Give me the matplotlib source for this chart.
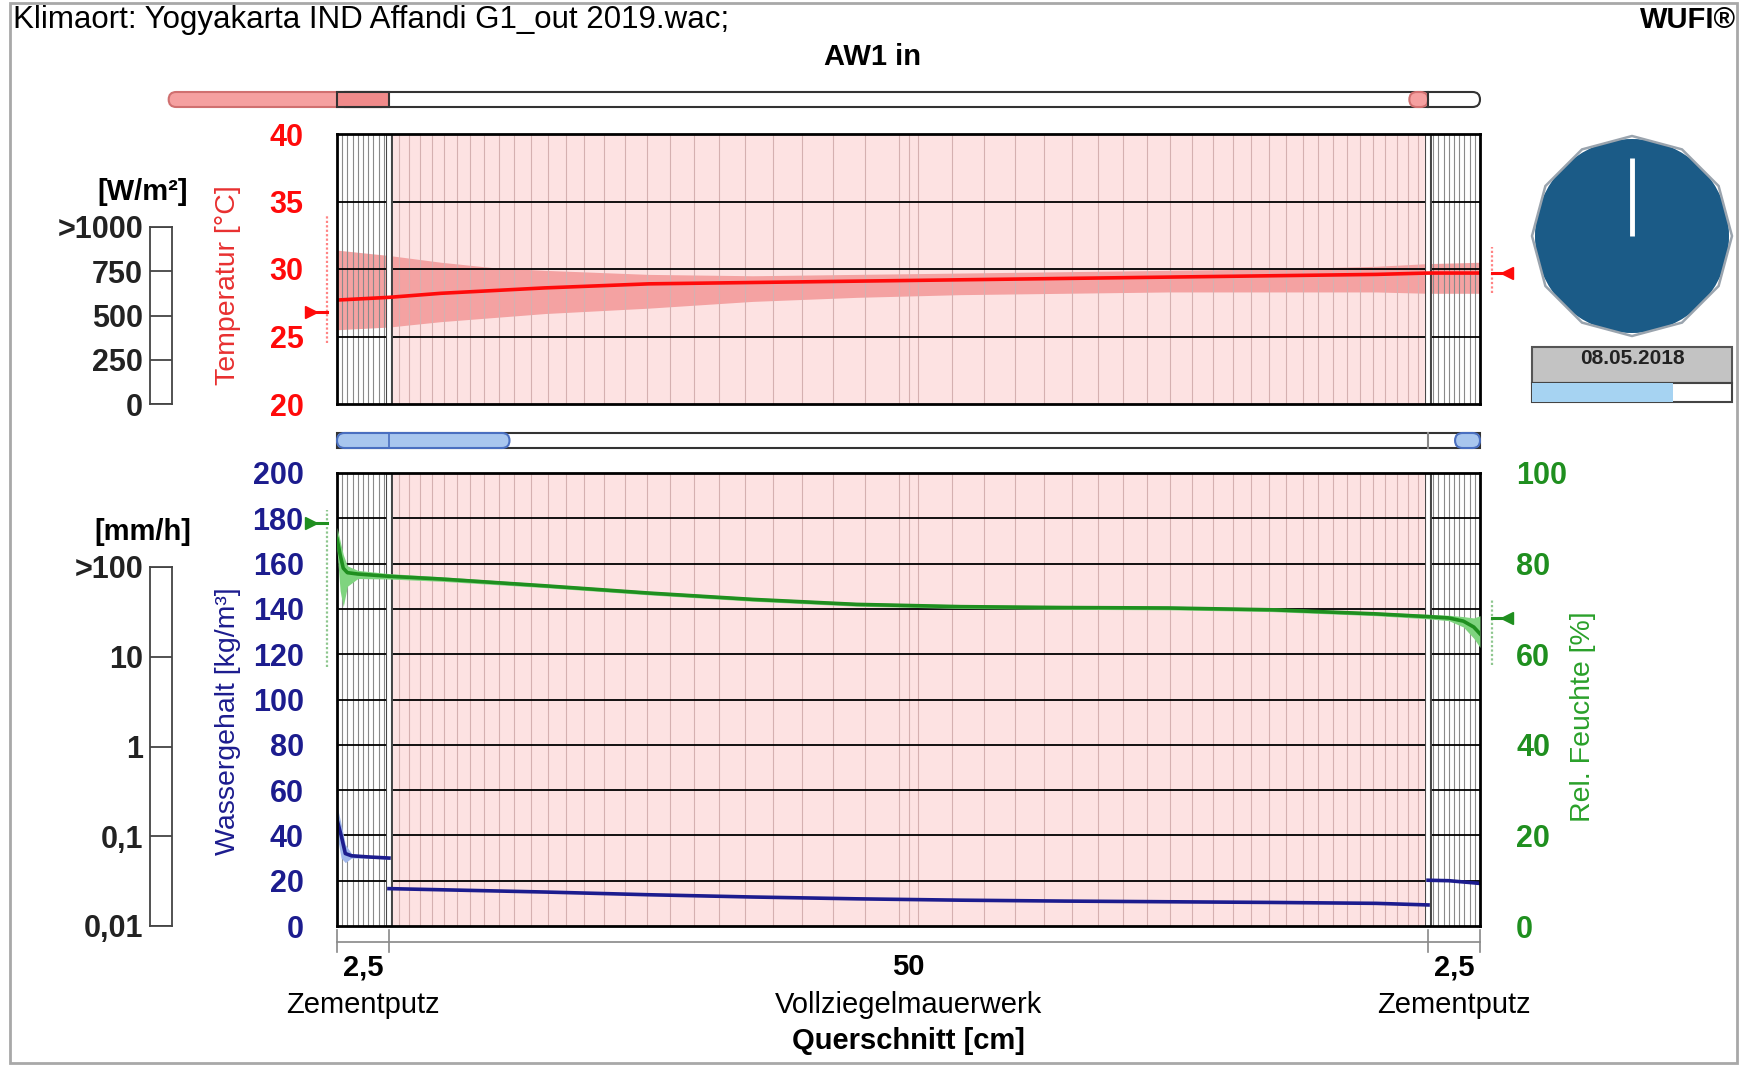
import numpy as np
import matplotlib.pyplot as plt
from matplotlib.patches import Rectangle, Circle, RegularPolygon, FancyBboxPatch
from matplotlib.transforms import blended_transform_factory

plt.rcParams['font.family'] = ['Liberation Sans', 'DejaVu Sans']

# ---- data ----
layer_names = ["Zementputz", "Vollziegelmauerwerk", "Zementputz"]
layer_thickness = [2.5, 50.0, 2.5]
layer_labels = ["2,5", "50", "2,5"]

# temperature profile [°C]
temp_x = [0, 2.5, 5, 7.5, 10, 15, 20, 25, 30, 35, 40, 45, 50, 52.5, 55]
temp_mean = [27.7, 27.9, 28.2, 28.4, 28.6, 28.9, 29.0, 29.1, 29.2, 29.3, 29.4, 29.5, 29.6, 29.7, 29.7]
temp_max = [31.4, 31.0, 30.5, 30.1, 29.9, 29.6, 29.5, 29.6, 29.7, 29.8, 29.9, 30.0, 30.2, 30.4, 30.5]
temp_min = [25.5, 25.7, 26.1, 26.4, 26.7, 27.1, 27.6, 27.9, 28.1, 28.2, 28.3, 28.3, 28.3, 28.2, 28.2]

# relative humidity profile [%]
rh_x = [0, 0.15, 0.3, 0.5, 1.0, 2.5, 5, 10, 15, 20, 25, 30, 35, 40, 45, 50, 52.5, 53.5, 54.2, 54.7, 55]
rh_mean = [85.5, 82.0, 79.0, 78.0, 77.7, 77.2, 76.6, 75.1, 73.5, 72.1, 71.0, 70.5, 70.3, 70.2, 69.8,
           68.9, 68.3, 68.0, 67.3, 66.0, 64.5]
rh_max = [88.0, 85.0, 82.0, 79.5, 78.5, 77.8, 77.1, 75.5, 73.9, 72.5, 71.4, 70.9, 70.7, 70.6, 70.2,
          69.3, 68.8, 68.6, 68.3, 68.0, 68.5]
rh_min = [83.0, 74.0, 70.5, 75.0, 76.7, 76.6, 76.1, 74.7, 73.1, 71.7, 70.6, 70.1, 69.9, 69.8, 69.4,
          68.5, 67.8, 67.4, 66.0, 63.5, 61.5]

# water content per layer [kg/m³]
w_left_x = [0, 0.2, 0.4, 0.7, 1.5, 2.5]
w_left = [47, 40, 32, 31, 30.5, 30.0]
w_left_max = [53, 45, 36, 32, 31, 30.5]
w_left_min = [40, 30, 28, 30, 30, 29.5]
w_mid_x = [2.5, 5, 10, 15, 20, 25, 30, 35, 40, 45, 50, 52.5]
w_mid = [16.5, 16.0, 15.0, 13.8, 12.8, 12.0, 11.4, 11.0, 10.7, 10.4, 10.0, 9.3]
w_right_x = [52.5, 53.5, 54.5, 55]
w_right = [20.2, 20.0, 19.2, 18.8]

# surface values (marker, min, max)
t_surf_left = (26.8, 24.5, 33.9)
t_surf_right = (29.7, 28.2, 31.6)
rh_surf_left = (89.0, 57.2, 91.8)
rh_surf_right = (68.0, 57.6, 72.0)

# flux bars above the panels (extent in cm)
heat_bar_left = -8.1
heat_bar_right = 51.6
moist_bar_left = 8.3
moist_bar_right = 53.8

date_text = "08.05.2018"
progress = 0.705

# ---- layout helpers (pixels of the 1746x1066 picture) ----
W, H = 1746, 1066


def px_rect(l, t, r, b):
    return [l / W, 1 - b / H, (r - l) / W, (b - t) / H]


RED = '#ff0a0a'
NAVY = '#1c1c8e'
GREEN = '#1f8f1f'
PINK = '#fde2e2'
TICK_FS = 22
TEXT_FS = 21

fig = plt.figure(figsize=(W / 100, H / 100), dpi=100)
overlay = fig.add_axes([0, 0, 1, 1], zorder=-1)
overlay.set_xlim(0, W)
overlay.set_ylim(H, 0)
overlay.axis('off')

ax_t = fig.add_axes(px_rect(337, 134, 1480, 404))
ax_w = fig.add_axes(px_rect(337, 473, 1480, 926))
ax_rh = ax_w.twinx()

bounds = np.cumsum([0] + layer_thickness)
total = bounds[-1]


def mesh_positions():
    # numerical grid lines: uniform in plaster, growing towards the middle of the brick
    xs = list(np.arange(0.25, 2.5, 0.25)) + list(52.5 + np.arange(0.25, 2.5, 0.25))
    x0, x1 = bounds[1], bounds[2]
    half = (x1 - x0) / 2
    s, d = 0.48, 0.48
    while d < half - 0.4:
        xs += [x0 + d, x1 - d]
        s *= 1.05
        d += s
    xs.append(x0 + half)
    return xs


def style_panel(ax):
    ax.set_xlim(0, total)
    ax.axvspan(bounds[1], bounds[2], color=PINK, lw=0, zorder=0)
    for x in mesh_positions():
        in_brick = bounds[1] < x < bounds[2]
        ax.axvline(x, color='#d5b0b0' if in_brick else '#8a8a8a', lw=0.8, zorder=2)
    for b in bounds[1:-1]:
        ax.axvline(b, color='#444444', lw=5, zorder=4)
        ax.axvline(b, color='white', lw=2.8, zorder=4.1)
    ax.set_xticks([])
    for s in ax.spines.values():
        s.set_linewidth(2)
        s.set_color('black')
        s.set_zorder(6)


def bold_ticks(ax, color, pad):
    ax.tick_params(axis='y', length=0, pad=pad, labelsize=TICK_FS, labelcolor=color)
    for lab in ax.get_yticklabels():
        lab.set_fontweight('bold')


# ---- temperature panel ----
style_panel(ax_t)
ax_t.set_ylim(20, 40)
ax_t.set_yticks([20, 25, 30, 35, 40])
for y in [25, 30, 35]:
    ax_t.axhline(y, color='black', lw=1.3, zorder=3)
ax_t.fill_between(temp_x, temp_min, temp_max, color='#f4a2a2', lw=0, zorder=1)
ax_t.plot(temp_x, temp_mean, color=RED, lw=2.6, zorder=5)
bold_ticks(ax_t, RED, 24)

# ---- moisture panel ----
style_panel(ax_w)
ax_w.set_ylim(0, 200)
ax_w.set_yticks(np.arange(0, 201, 20))
for y in np.arange(20, 200, 20):
    ax_w.axhline(y, color='black', lw=1.3, zorder=3)
ax_w.fill_between(w_left_x, w_left_min, w_left_max, color='#9fb6ea', lw=0, zorder=4.5)
for xs, ys in [(w_left_x, w_left), (w_mid_x, w_mid), (w_right_x, w_right)]:
    ax_w.plot(xs, ys, color=NAVY, lw=2.6, zorder=5)
bold_ticks(ax_w, NAVY, 24)

ax_rh.set_ylim(0, 100)
ax_rh.set_yticks(np.arange(0, 101, 20))
ax_rh.fill_between(rh_x, rh_min, rh_max, color='#7fd47f', lw=0)
ax_rh.plot(rh_x, rh_mean, color=GREEN, lw=2.6)
bold_ticks(ax_rh, GREEN, 26)
for s in ax_rh.spines.values():
    s.set_visible(False)


# ---- surface markers ----
def surface_marker(ax, vals, x_line, x_tip, direction, color):
    val, lo, hi = vals
    tr = blended_transform_factory(overlay.transData, ax.transData)
    ax.plot([x_line, x_line], [lo, hi], transform=tr, color=color, lw=1.6,
            ls=(0, (1, 1)), alpha=0.5, clip_on=False)
    ax.plot([x_line, x_tip], [val, val], transform=tr, color=color, lw=2.2, clip_on=False)
    ax.plot([x_tip], [val], transform=tr, marker=direction, color=color, ms=9, clip_on=False)


surface_marker(ax_t, t_surf_left, 327, 311, '>', RED)
surface_marker(ax_t, t_surf_right, 1492, 1507, '<', RED)
surface_marker(ax_rh, rh_surf_left, 327, 311, '>', GREEN)
surface_marker(ax_rh, rh_surf_right, 1492, 1507, '<', GREEN)

fig.canvas.draw()


def cm_px(cm):
    disp = ax_t.transData.transform((cm, 30))
    return overlay.transData.inverted().transform(disp)[0]


def bar(x0, x1, y0, y1, fc, ec, rounded=False, lw=1.5):
    style = 'round,pad=0,rounding_size=%g' % ((y1 - y0) / 2) if rounded else 'square,pad=0'
    overlay.add_patch(FancyBboxPatch((x0, y0), x1 - x0, y1 - y0, boxstyle=style,
                                     fc=fc, ec=ec, lw=lw))


# heat flux bar (red) above the temperature panel
bar(cm_px(0), cm_px(total), 92, 107, 'white', '#333333', rounded=True)
bar(cm_px(heat_bar_left), cm_px(2.5), 92, 107, '#f5a0a0', '#d07070', rounded=True)
bar(cm_px(0), cm_px(2.5), 92, 107, '#f08a8a', '#333333')
bar(cm_px(heat_bar_right), cm_px(52.5), 92, 107, '#f5a0a0', '#d07070', rounded=True)
overlay.plot([cm_px(52.5)] * 2, [92, 107], color='#333333', lw=1.5)

# moisture flux bar (blue) above the moisture panel
bar(cm_px(0), cm_px(total), 433, 448, 'white', '#333333')
bar(cm_px(0), cm_px(moist_bar_left), 433, 448, '#a8c6ee', '#4a6fc0', rounded=True)
overlay.plot([cm_px(2.5)] * 2, [433, 448], color='#4a6fc0', lw=1.2)
bar(cm_px(moist_bar_right), cm_px(total), 433, 448, '#a8c6ee', '#4a6fc0', rounded=True)
overlay.plot([cm_px(52.5)] * 2, [433, 448], color='#888888', lw=1.5)

# dimension line and layer labels below the moisture panel
overlay.plot([cm_px(0), cm_px(total)], [942, 942], color='#888888', lw=1.2)
for b in bounds:
    overlay.plot([cm_px(b)] * 2, [930, 952], color='#888888', lw=1.2)
for i, name in enumerate(layer_names):
    xc = cm_px((bounds[i] + bounds[i + 1]) / 2)
    overlay.text(xc, 967, layer_labels[i], ha='center', va='center', fontsize=TEXT_FS,
                 fontweight='bold')
    overlay.text(xc, 1005, name, ha='center', va='center', fontsize=TEXT_FS)
overlay.text(cm_px(total / 2), 1041, "Querschnitt [cm]", ha='center', va='center',
             fontsize=TEXT_FS, fontweight='bold')

# titles and frame
overlay.add_patch(Rectangle((10, 3), 1727, 1060, fill=False, ec='#a8a8a8', lw=2))
overlay.text(13, 20, "Klimaort: Yogyakarta IND Affandi G1_out 2019.wac;", ha='left', va='center',
             fontsize=22.5)
overlay.text(1736, 20, "WUFI®", ha='right', va='center', fontsize=TEXT_FS, fontweight='bold')
overlay.text(873, 57, "AW1 in", ha='center', va='center', fontsize=TEXT_FS, fontweight='bold')

# axis labels
overlay.text(228, 285, "Temperatur [°C]", rotation=90, ha='center', va='center',
             fontsize=20.5, color='#e83030')
overlay.text(228, 721, "Wassergehalt [kg/m³]", rotation=90, ha='center', va='center',
             fontsize=20.5, color=NAVY)
overlay.text(1583, 717, "Rel. Feuchte [%]", rotation=90, ha='center', va='center',
             fontsize=20.5, color='#2aa02a')

# radiation and rain scales on the left
ax_rad = fig.add_axes(px_rect(150, 227, 172, 404))
ax_rad.set_ylim(0, 1000)
ax_rad.set_yticks([0, 250, 500, 750, 1000])
ax_rad.set_yticklabels(['0', '250', '500', '750', '>1000'])
ax_rain = fig.add_axes(px_rect(150, 567, 172, 926))
ax_rain.set_yscale('log')
ax_rain.set_ylim(0.01, 100)
ax_rain.set_yticks([0.01, 0.1, 1, 10, 100])
ax_rain.set_yticklabels(['0,01', '0,1', '1', '10', '>100'])
ax_rain.minorticks_off()
for ax in (ax_rad, ax_rain):
    ax.set_xticks([])
    for t in ax.get_yticks():
        ax.axhline(t, color='#444444', lw=1.3)
    bold_ticks(ax, '#222222', 5)
    for s in ax.spines.values():
        s.set_color('#444444')
        s.set_linewidth(1.3)
overlay.text(143, 192, "[W/m²]", ha='center', va='center', fontsize=TEXT_FS, fontweight='bold')
overlay.text(143, 532, "[mm/h]", ha='center', va='center', fontsize=TEXT_FS, fontweight='bold')

# clock
ax_clk = fig.add_axes(px_rect(1527, 131, 1737, 341))
ax_clk.set_xlim(-1.05, 1.05)
ax_clk.set_ylim(-1.05, 1.05)
ax_clk.set_aspect('equal')
ax_clk.axis('off')
ax_clk.add_patch(Circle((0, 0), 0.97, fc='#1b5b87', ec='none'))
ax_clk.add_patch(RegularPolygon((0, 0), numVertices=12, radius=1.0, orientation=0,
                                fill=False, ec='#9aa4ae', lw=1.8))
ax_clk.plot([0, 0], [0, 0.78], color='white', lw=3.5, solid_capstyle='butt')

# date box with progress bar
overlay.add_patch(Rectangle((1532, 347), 200, 36, fc='#c3c3c3', ec='#555555', lw=1.5))
overlay.text(1632, 358, date_text, ha='center', va='center', fontsize=15, fontweight='bold',
             family=['Liberation Sans Narrow', 'Liberation Sans'], color='#222222')
overlay.add_patch(Rectangle((1532, 383), 200, 19, fc='white', ec='#444444', lw=1.5))
overlay.add_patch(Rectangle((1532, 383), 200 * progress, 19, fc='#a6d3f2', ec='none'))

fig.savefig('out.png', dpi=100)
